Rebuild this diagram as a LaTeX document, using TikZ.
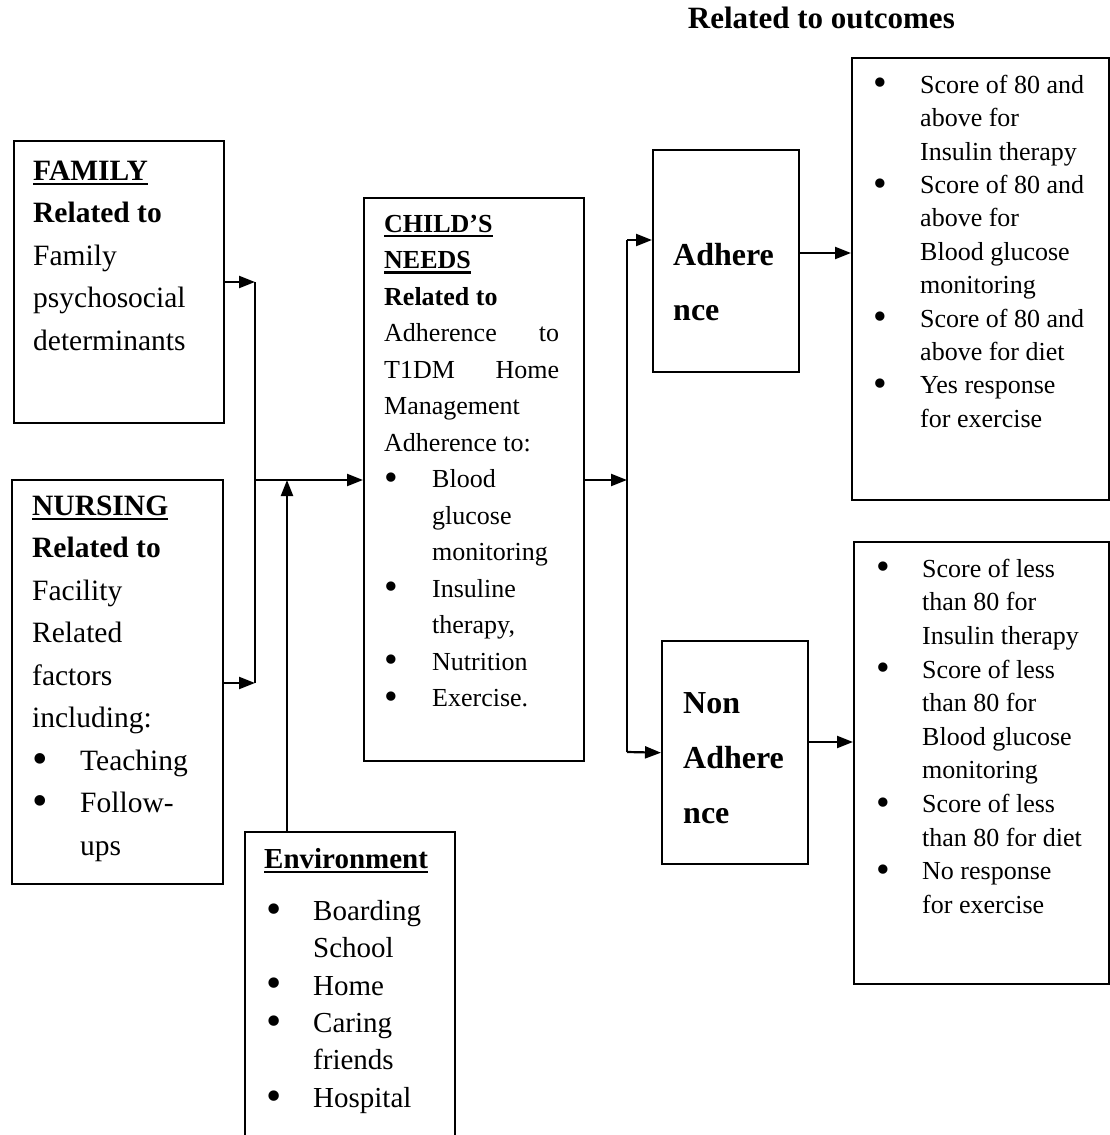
\documentclass[tikz,border=0pt]{standalone}
\usepackage{fontspec}
\usepackage{graphicx}
\setmainfont{Liberation Serif}
\usetikzlibrary{arrows.meta}
\newcommand\myul[1]{\setbox0\hbox{#1}\rlap{\rule[-5pt]{\wd0}{2.6pt}}\box0}
\newcommand\bigbul{\raisebox{-0.1em}{\scalebox{1.5}{\textbullet}}}
\newcommand\bl[2][0pt]{\makebox[#2][l]{\hspace*{#1}\bigbul}}
\newcommand\ind[1]{\hspace*{#1}}
\newcommand\fbig{\fontsize{29.5pt}{42.5pt}\selectfont}
\newcommand\fchild{\fontsize{26pt}{36.5pt}\selectfont}
\newcommand\fenv{\fontsize{29pt}{37.4pt}\selectfont}
\newcommand\fout{\fontsize{26pt}{33.4pt}\selectfont}
\newcommand\foutb{\fontsize{26pt}{33.6pt}\selectfont}
\newcommand\fadh{\fontsize{32pt}{55pt}\selectfont\bfseries}
\tikzset{
  box/.style={draw, line width=2.4pt, inner sep=0pt, anchor=north west},
  conn/.style={line width=2.2pt, -{Triangle[length=16pt,width=12pt]}},
  plain/.style={line width=2.2pt},
  txt/.style={anchor=north west, inner sep=0pt, align=left},
}
\begin{document}
\begin{tikzpicture}[x=1pt,y=-1pt]
\useasboundingbox (0,0) rectangle (1110,1135);
\fill[white] (0,0) rectangle (1110,1135);

% title
\node[anchor=base east, inner sep=0pt, font=\fontsize{31pt}{36pt}\selectfont\bfseries] (title) at (955,28) {Related to outcomes};

% boxes
\node[box, minimum width=210pt, minimum height=282pt] (family) at (13,140) {};
\node[box, minimum width=211pt, minimum height=404pt] (nursing) at (11,479) {};
\node[box, minimum width=220pt, minimum height=563pt] (child) at (363,197) {};
\node[box, minimum width=210pt, minimum height=330pt] (env) at (244,831) {};
\node[box, minimum width=146pt, minimum height=222pt] (adh) at (652,149) {};
\node[box, minimum width=146pt, minimum height=223pt] (nonadh) at (661,640) {};
\node[box, minimum width=257pt, minimum height=442pt] (out1) at (851,57) {};
\node[box, minimum width=255pt, minimum height=442pt] (out2) at (853,541) {};

% texts
\node[txt, font=\fbig] (familytxt) at (33,150.25) {\strut\myul{\textbf{FAMILY}}\\
\textbf{Related to}\\ Family\\ psychosocial\\ determinants};

\node[txt, font=\fbig] (nursingtxt) at (32,485.25) {\strut\myul{\textbf{NURSING}}\\
\textbf{Related to}\\ Facility\\ Related\\ factors\\ including:\\
\bl{48pt}Teaching\\ \bl{48pt}Follow-\\ \ind{48pt}ups};

\node[txt, font=\fchild] (childtxt) at (384,206.45) {\strut\myul{\textbf{CHILD’S}}\\
\myul{\textbf{NEEDS}}\\ \textbf{Related to}\\
\makebox[175pt][l]{Adherence\hfill to}\\
\makebox[175pt][l]{T1DM\hfill Home}\\
Management\\ Adherence to:\\
\bl{48pt}Blood\\ \ind{48pt}glucose\\ \ind{48pt}monitoring\\
\bl{48pt}Insuline\\ \ind{48pt}therapy,\\
\bl{48pt}Nutrition\\ \bl{48pt}Exercise.};

\node[txt, font=\fenv] (envtxt) at (264,841.82) {\strut\myul{\textbf{Environment}}\\[14.6pt]
\bl[2pt]{49pt}Boarding\\ \ind{49pt}School\\ \bl[2pt]{49pt}Home\\
\bl[2pt]{49pt}Caring\\ \ind{49pt}friends\\ \bl[2pt]{49pt}Hospital};

\node[txt, font=\fadh] (adhtxt) at (673,226.5) {\strut Adhere\\ nce};
\node[txt, font=\fadh] (nonadhtxt) at (683,674.5) {\strut Non\\ Adhere\\ nce};

\node[txt, font=\fout] (out1txt) at (873,69.62) {\strut\bl{47pt}Score of 80 and\\
\ind{47pt}above for\\ \ind{47pt}Insulin therapy\\
\bl{47pt}Score of 80 and\\ \ind{47pt}above for\\ \ind{47pt}Blood glucose\\ \ind{47pt}monitoring\\
\bl{47pt}Score of 80 and\\ \ind{47pt}above for diet\\
\bl{47pt}Yes response\\ \ind{47pt}for exercise};

\node[txt, font=\foutb] (out2txt) at (876,553.48) {\strut\bl{46pt}Score of less\\
\ind{46pt}than 80 for\\ \ind{46pt}Insulin therapy\\
\bl{46pt}Score of less\\ \ind{46pt}than 80 for\\ \ind{46pt}Blood glucose\\ \ind{46pt}monitoring\\
\bl{46pt}Score of less\\ \ind{46pt}than 80 for diet\\
\bl{46pt}No response\\ \ind{46pt}for exercise};

% junction coordinates
\coordinate (jtop) at (255,282);
\coordinate (jbot) at (255,683);
\coordinate (jmid) at (255,480);
\coordinate (envup) at (287,480);
\coordinate (split) at (627,480);
\coordinate (stop) at (627,240);
\coordinate (sbot) at (627,752);
\coordinate (aout) at (798,253);
\coordinate (nout) at (807,742);

% connectors
\draw[conn] (family.east |- jtop) -- (jtop);
\draw[conn] (nursing.east |- jbot) -- (jbot);
\draw[plain] (jtop) -- (jbot);
\draw[conn] (jmid) -- (child.west |- jmid);
\draw[conn] (envup |- env.north) -- (envup);
\draw[conn] (child.east |- split) -- (split);
\draw[plain] (stop) -- (sbot);
\draw[conn] (stop) -- (adh.west |- stop);
\draw[conn] (sbot) -- (nonadh.west);
\draw[conn] (adh.east |- aout) -- (out1.west |- aout);
\draw[conn] (nonadh.east |- nout) -- (out2.west |- nout);
\end{tikzpicture}
\end{document}
